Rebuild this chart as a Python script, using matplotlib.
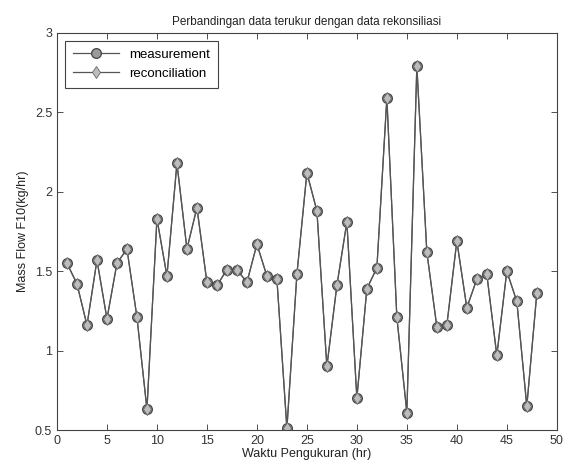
import numpy as np
import matplotlib
matplotlib.use("Agg")
import matplotlib.pyplot as plt

plt.rcParams['font.family'] = ['Liberation Sans', 'DejaVu Sans']

# waktu pengukuran (jam) dan mass flow F10
waktu = np.arange(1, 49)
measurement = [1.55, 1.42, 1.16, 1.57, 1.20, 1.55, 1.64, 1.21, 0.63, 1.83,
               1.47, 2.18, 1.64, 1.90, 1.43, 1.41, 1.51, 1.51, 1.43, 1.67,
               1.47, 1.45, 0.51, 1.48, 2.12, 1.88, 0.90, 1.41, 1.81, 0.70,
               1.39, 1.52, 2.59, 1.21, 0.61, 2.79, 1.62, 1.15, 1.16, 1.69,
               1.27, 1.45, 1.48, 0.97, 1.50, 1.31, 0.65, 1.36]
reconciliation = list(measurement)

fig = plt.figure(figsize=(5.67, 4.71), dpi=100)
ax = fig.add_axes([0.1005, 0.087, 0.8815, 0.843])

ax.plot(waktu, measurement, '-o', color='#555555', lw=0.9,
        ms=7, mfc='#9a9a9a', mec='#444444', mew=0.9, label='measurement')
ax.plot(waktu, reconciliation, '-d', color='#555555', lw=0.9,
        ms=6, mfc='#bdbdbd', mec='#666666', mew=0.6, label='reconciliation')

ax.set_xlim(0, 50)
ax.set_ylim(0.5, 3)
ax.set_xticks(np.arange(0, 51, 5))
ax.set_yticks([0.5, 1, 1.5, 2, 2.5, 3])
ax.set_yticklabels(['0.5', '1', '1.5', '2', '2.5', '3'])
ax.tick_params(direction='in', top=True, right=True, labelsize=9,
               colors='#333333', length=4, width=0.6)
for s in ax.spines.values():
    s.set_color('#444444')
    s.set_linewidth(0.8)

ax.set_title('Perbandingan data terukur dengan data rekonsiliasi',
             fontsize=8.5, color='#222222', pad=6)
ax.set_xlabel('Waktu Pengukuran (hr)', fontsize=9, color='#222222', labelpad=1)
ax.set_ylabel('Mass Flow F10(kg/hr)', fontsize=9, color='#222222', labelpad=4)

leg = ax.legend(loc='upper left', fontsize=9.5, fancybox=False,
                edgecolor='#444444', framealpha=1, borderpad=0.6,
                handlelength=3.5, labelspacing=0.5, borderaxespad=0.6)
leg.get_frame().set_linewidth(0.8)

fig.savefig('out.png', dpi=100)
